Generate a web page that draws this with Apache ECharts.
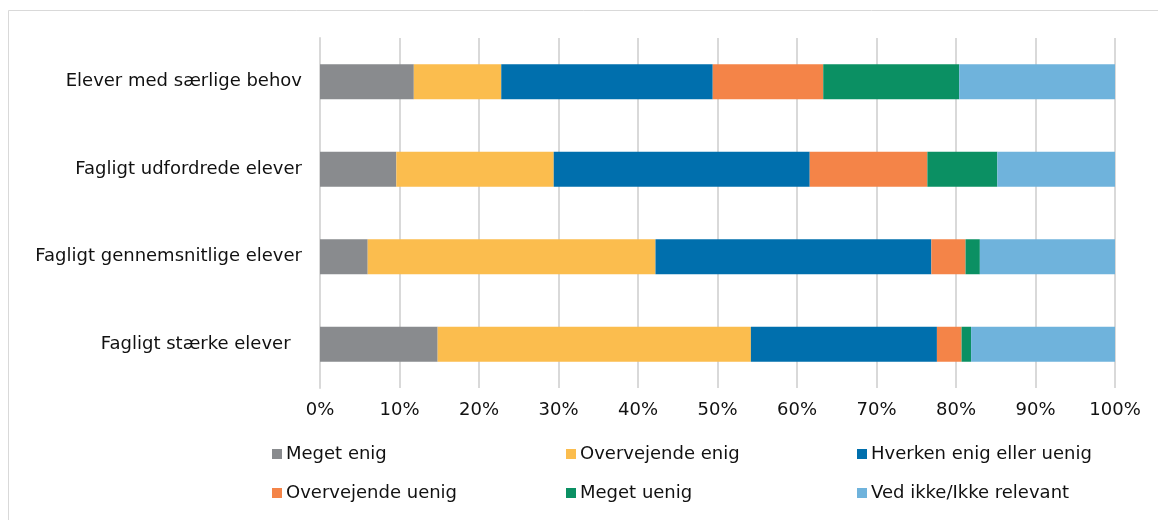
<!DOCTYPE html>
<html><head><meta charset="utf-8">
<script src="https://cdn.jsdelivr.net/npm/echarts@6/dist/echarts.min.js"></script>
<style>html,body{margin:0;padding:0;background:#fff}#c{width:1158px;height:520px}</style>
</head><body><div id="c"></div>
<script>
const categories = ["Elever med særlige behov", "Fagligt udfordrede elever", "Fagligt gennemsnitlige elever", "Fagligt stærke elever  "];
const seriesNames = ["Meget enig", "Overvejende enig", "Hverken enig eller uenig", "Overvejende uenig", "Meget uenig", "Ved ikke/Ikke relevant"];
const megetEnig = [11.8, 9.6, 6.0, 14.8];
const overvejendeEnig = [11.0, 19.8, 36.2, 39.4];
const hverken = [26.6, 32.2, 34.7, 23.4];
const overvejendeUenig = [13.9, 14.8, 4.3, 3.1];
const megetUenig = [17.1, 8.8, 1.8, 1.2];
const vedIkke = [19.6, 14.8, 17.0, 18.1];
const xTicks = [0, 10, 20, 30, 40, 50, 60, 70, 80, 90, 100];
const colors = ["#898b8e", "#fbbd4e", "#006fad", "#f48448", "#0b9063", "#6fb3dc"];

const values = [megetEnig, overvejendeEnig, hverken, overvejendeUenig, megetUenig, vedIkke];
const FONT = "DejaVu Sans";
const legendPos = [[267, 440], [561, 440], [852, 440], [267, 479], [561, 479], [852, 479]];

const chart = echarts.init(document.getElementById('c'), null, {renderer: 'canvas'});
chart.setOption({
  animation: false,
  backgroundColor: '#fff',
  graphic: [{type: 'rect', shape: {x: 8.5, y: 10.5, width: 1170, height: 540}, style: {fill: 'none', stroke: '#d9d9d9', lineWidth: 1}, silent: true}],
  grid: {left: 320, right: 43, top: 38, height: 350, containLabel: false},
  xAxis: {
    type: 'value', min: 0, max: 100, interval: 10,
    axisLine: {show: false}, axisTick: {show: false},
    splitLine: {show: true, lineStyle: {color: '#d9d9d9', width: 2}},
    axisLabel: {formatter: v => v + '%', fontFamily: FONT, fontSize: 18, color: '#111', margin: 13}
  },
  yAxis: {
    type: 'category', data: categories, inverse: true,
    axisLine: {show: true, lineStyle: {color: '#d9d9d9', width: 2}}, axisTick: {show: false},
    axisLabel: {fontFamily: FONT, fontSize: 18, color: '#111', margin: 18}
  },
  legend: legendPos.map((p, i) => ({
    data: [seriesNames[i]], left: p[0], top: p[1], itemWidth: 10, itemHeight: 10, itemGap: 5,
    icon: 'rect', selectedMode: false,
    textStyle: {fontFamily: FONT, fontSize: 18, color: '#111', padding: [0, 0, 0, -1]}
  })),
  series: seriesNames.map((n, i) => ({
    name: n, type: 'bar', stack: 'total', data: values[i], barWidth: 35,
    itemStyle: {color: colors[i]}
  }))
});
</script></body></html>
